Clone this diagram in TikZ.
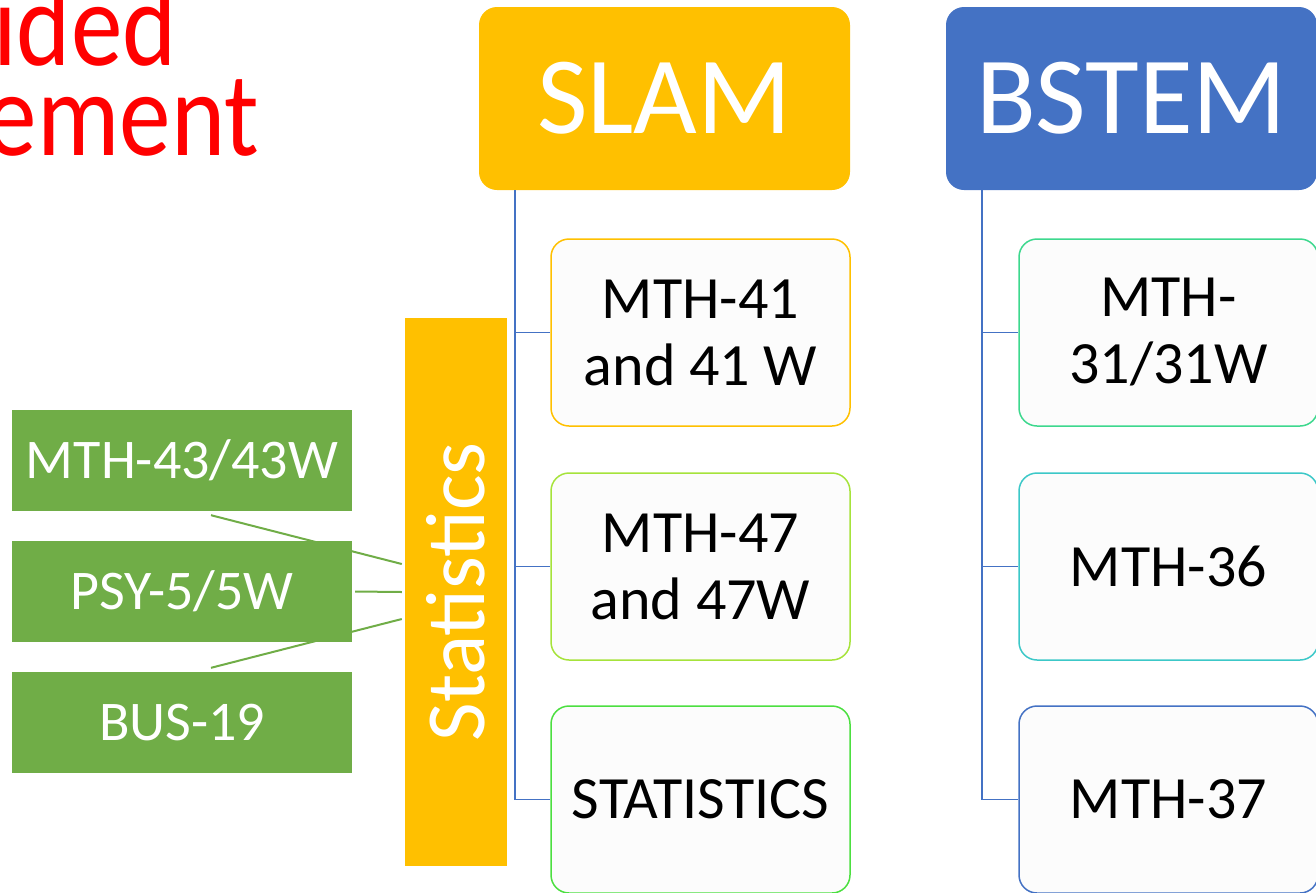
\documentclass[tikz,border=0pt]{standalone}
\usepackage{fontspec}
\setmainfont{Carlito}
\usetikzlibrary{backgrounds}
\definecolor{slamY}{HTML}{FFC000}
\definecolor{blueH}{HTML}{4472C4}
\definecolor{gfill}{HTML}{70AD47}
\definecolor{cA}{HTML}{FFC000}
\definecolor{cB}{HTML}{A6E33B}
\definecolor{cC}{HTML}{4CDF40}
\definecolor{cD}{HTML}{3DD88E}
\definecolor{cE}{HTML}{3CC8C8}
\definecolor{cF}{HTML}{4472C4}
\definecolor{boxfill}{HTML}{FCFCFC}
\definecolor{redT}{HTML}{FF0000}
\tikzset{
  hdr/.style={rounded corners=18pt, minimum width=371pt, minimum height=183pt, text=white,
    font=\fontsize{110}{120}\selectfont, inner sep=0pt},
  child/.style={draw, line width=1.5pt, fill=boxfill, rounded corners=18pt, minimum width=299pt,
    minimum height=187pt, align=center, font=\fontsize{60}{67}\selectfont, inner sep=0pt},
  gbox/.style={fill=gfill, minimum width=340pt, minimum height=101pt, text=white,
    font=\fontsize{56}{60}\selectfont, inner sep=0pt},
  bline/.style={draw=blueH, line width=1.5pt},
  gline/.style={draw=gfill, line width=2pt},
  redtxt/.style={text=redT, font=\fontsize{120}{122}\selectfont, inner sep=0pt, anchor=base east},
}
\begin{document}
\begin{tikzpicture}[x=1pt,y=-1pt]
\useasboundingbox (0,0) rectangle (1316,892);
% red title fragments
\node[redtxt] (t1) at (177,65) {\scalebox{0.86}[1]{ided}};
\node[redtxt] (t2) at (259,155) {\scalebox{0.86}[1]{ement}};
% headers
\node[hdr, fill=slamY] (slam) at (664.5,98.5) {SLAM};
\node[hdr, fill=blueH] (bstem) at (1131.5,98.5) {BSTEM};
% SLAM children
\node[child, draw=cA] (s1) at (700.5,332.5) {MTH-41\\and 41 W};
\node[child, draw=cB] (s2) at (700.5,566.5) {MTH-47\\and 47W};
\node[child, draw=cC] (s3) at (700.5,799.5) {STATISTICS};
% BSTEM children
\node[child, draw=cD] (b1) at (1168.5,332.5) {MTH-\\31/31W};
\node[child, draw=cE] (b2) at (1168.5,566.5) {MTH-36};
\node[child, draw=cF] (b3) at (1168.5,799.5) {MTH-37};
% connectors
\coordinate (strunk) at ([xshift=-149.5pt]slam.south);
\coordinate (btrunk) at ([xshift=-149.5pt]bstem.south);
\draw[bline] (strunk) |- (s3.west);
\draw[bline] (strunk |- s1.west) -- (s1.west);
\draw[bline] (strunk |- s2.west) -- (s2.west);
\draw[bline] (btrunk) |- (b3.west);
\draw[bline] (btrunk |- b1.west) -- (b1.west);
\draw[bline] (btrunk |- b2.west) -- (b2.west);
% statistics bar
\node[fill=slamY, minimum width=102pt, minimum height=548pt, inner sep=0pt] (stat) at (456,592) {};
\node[rotate=90, text=white, font=\fontsize{84}{90}\selectfont, inner sep=0pt] (statlbl) at (stat.center) {Statistics};
% green boxes
\node[gbox] (g1) at (182,460.5) {MTH-43/43W};
\node[gbox] (g2) at (182,591.5) {PSY-5/5W};
\node[gbox] (g3) at (182,722.5) {BUS-19};
\begin{scope}[on background layer]
\draw[gline] ([xshift=-3pt,yshift=28pt]stat.west) -- ([xshift=29pt,yshift=-4pt]g1.south);
\draw[gline] ([xshift=-3pt]stat.west) -- ([xshift=3pt]g2.east);
\draw[gline] ([xshift=-3pt,yshift=-27pt]stat.west) -- ([xshift=29pt,yshift=4pt]g3.north);
\end{scope}
\end{tikzpicture}
\end{document}
